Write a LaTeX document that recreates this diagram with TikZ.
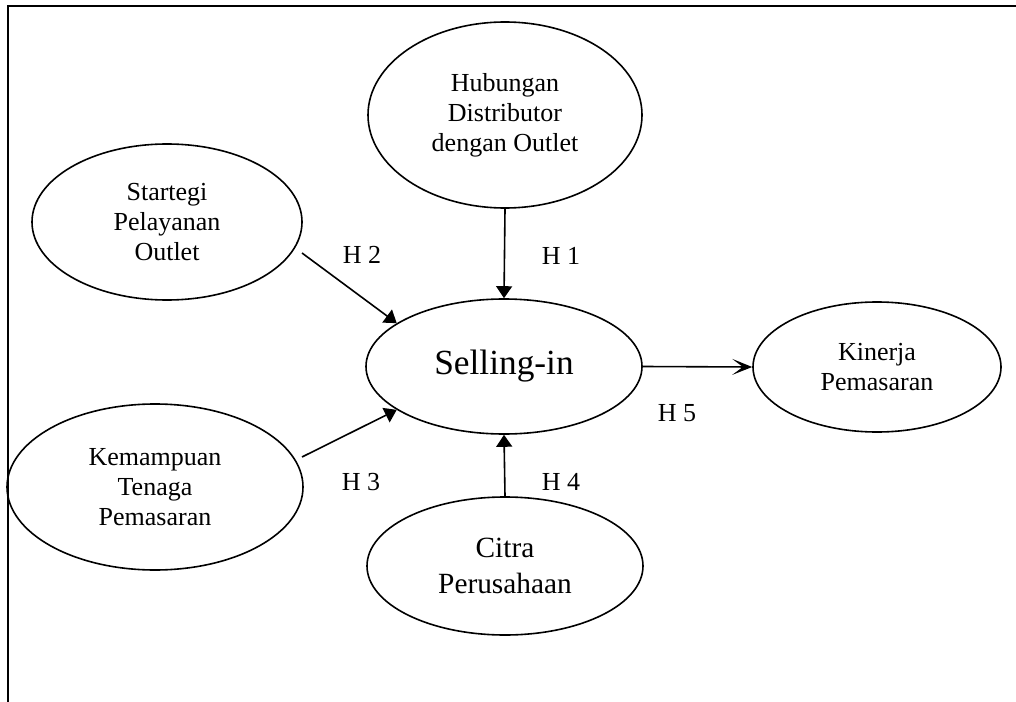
\documentclass[tikz,border=0pt]{standalone}
\usepackage{fontspec}
\setmainfont{Liberation Serif}
\usetikzlibrary{arrows.meta,shapes.geometric}
\begin{document}
\begin{tikzpicture}[x=0.75pt,y=-0.75pt,
  oval/.style={draw,ellipse,line width=1.2pt,inner sep=0pt,align=center,
    font=\fontsize{19.5}{22.5}\selectfont},
  hlabel/.style={font=\fontsize{19.5}{22.5}\selectfont,inner sep=0pt},
  link/.style={line width=1.2pt,-{Triangle[width=12pt,length=9pt]}},
  frameline/.style={line width=1.5pt}]
\useasboundingbox (0,0) rectangle (1016,702);
% open frame: top and left edges only
\draw[frameline] (8,702) -- (8,6) -- (1016,6);

% constructs
\node[oval,minimum width=205.5pt,minimum height=139.5pt] (hub) at (505,115)
  {Hubungan\\Distributor\\dengan Outlet};
\node[oval,minimum width=202.5pt,minimum height=117pt] (str) at (167,222)
  {Startegi\\Pelayanan\\Outlet};
\node[oval,minimum width=207pt,minimum height=101.25pt,
  font=\fontsize{26.5}{30}\selectfont] (sel) at (504,366.5) {Selling-in};
\node[oval,minimum width=186pt,minimum height=97.5pt] (kin) at (877,367)
  {Kinerja\\Pemasaran};
\node[oval,minimum width=222pt,minimum height=124.5pt] (kem) at (155,487)
  {Kemampuan\\Tenaga\\Pemasaran};
\node[oval,minimum width=207pt,minimum height=103.5pt,
  font=\fontsize{22}{27}\selectfont] (cit) at (505,566)
  {Citra\\Perusahaan};

% loose starts of the two diagonal arrows
\coordinate (s2) at (302,253);
\coordinate (s3) at (302,457);

% hypotheses
\draw[link] (hub.south) -- (sel.north);
\draw[link] (s2) -- (sel.158);
\draw[link] (s3) -- (sel.202);
\draw[link] (cit.north) -- (sel.south);
\draw[line width=1.2pt,-{Stealth[length=15pt,width=12pt,inset=8pt]}]
  (sel.east) -- (kin.west);

\node[hlabel] (h1) at (561,256) {H 1};
\node[hlabel] (h2) at (362,255) {H 2};
\node[hlabel] (h3) at (361,482) {H 3};
\node[hlabel] (h4) at (561,482) {H 4};
\node[hlabel] (h5) at (677,413) {H 5};
\end{tikzpicture}
\end{document}
